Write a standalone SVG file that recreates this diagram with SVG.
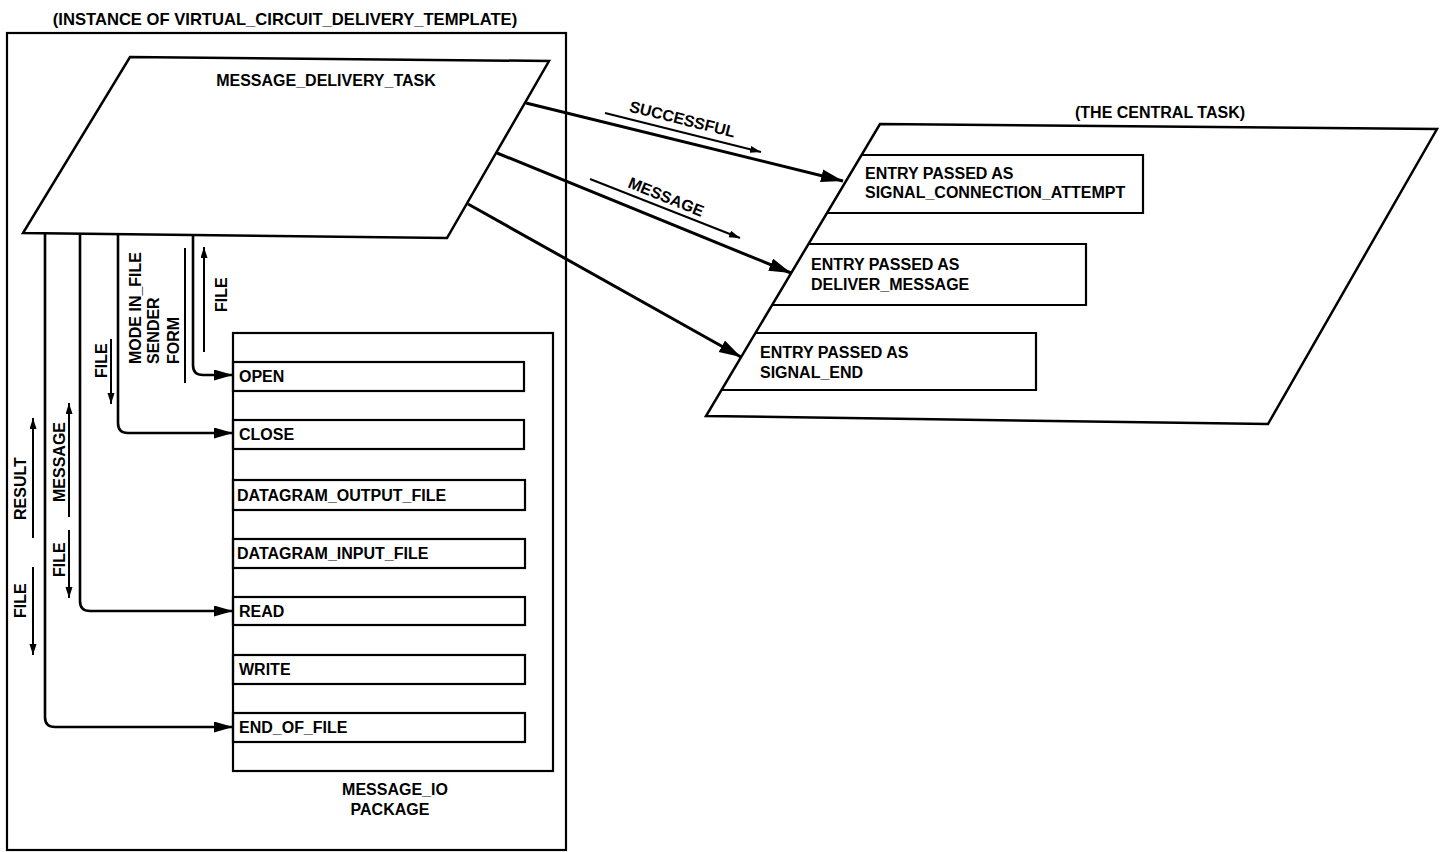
<svg xmlns="http://www.w3.org/2000/svg" width="1440" height="852" viewBox="0 0 1440 852">
<defs>
<style>
text{font-family:"Liberation Sans",Arial,Helvetica,sans-serif;font-weight:bold;font-size:16px;fill:#000}
.box{fill:none;stroke:#000;stroke-width:2.2}
.shape{fill:#fff;stroke:#000;stroke-width:2.5}
.conn{fill:none;stroke:#000;stroke-width:2.6}
.big{fill:none;stroke:#000;stroke-width:3}
.lab{fill:none;stroke:#000;stroke-width:2}
</style>
<marker id="ah" markerUnits="userSpaceOnUse" markerWidth="20" markerHeight="12" refX="19" refY="5.5" orient="auto"><path d="M0,0 L19,5.5 L0,11 z" fill="#000"/></marker>
<marker id="ahBig" markerUnits="userSpaceOnUse" markerWidth="24" markerHeight="14" refX="22" refY="6.5" orient="auto"><path d="M0,0 L22,6.5 L0,13 z" fill="#000"/></marker>
<marker id="ahS" markerUnits="userSpaceOnUse" markerWidth="12" markerHeight="8" refX="11" refY="3.5" orient="auto"><path d="M0,0 L11,3.5 L0,7 z" fill="#000"/></marker>
</defs>
<rect width="1440" height="852" fill="#fff"/>

<g id="template-frame">
<text x="285" y="25" text-anchor="middle" style="font-size:16.6px">(INSTANCE OF VIRTUAL_CIRCUIT_DELIVERY_TEMPLATE)</text>
<rect class="box" x="7" y="33" width="559" height="817"/>
</g>

<g id="message-delivery-task">
<polygon class="shape" points="130,57 549,61 447,238 23,233"/>
<text x="326" y="86" text-anchor="middle">MESSAGE_DELIVERY_TASK</text>
</g>

<g id="message-io-package">
<rect class="box" x="233" y="333" width="320" height="438"/>
<text x="395" y="795" text-anchor="middle">MESSAGE_IO</text>
<text x="390" y="815" text-anchor="middle">PACKAGE</text>
</g>
<g id="row-open"><rect class="box" x="233" y="362" width="291" height="29"/><text x="239" y="382">OPEN</text></g>
<g id="row-close"><rect class="box" x="233" y="420" width="291" height="29"/><text x="239" y="440">CLOSE</text></g>
<g id="row-dgout"><rect class="box" x="233" y="480" width="292" height="30"/><text x="237" y="501">DATAGRAM_OUTPUT_FILE</text></g>
<g id="row-dgin"><rect class="box" x="233" y="539" width="292" height="29"/><text x="237" y="559">DATAGRAM_INPUT_FILE</text></g>
<g id="row-read"><rect class="box" x="233" y="597" width="292" height="28"/><text x="239" y="617">READ</text></g>
<g id="row-write"><rect class="box" x="233" y="655" width="292" height="29"/><text x="239" y="675">WRITE</text></g>
<g id="row-eof"><rect class="box" x="233" y="713" width="292" height="29"/><text x="239" y="733">END_OF_FILE</text></g>

<g id="central-task">
<text x="1160" y="118" text-anchor="middle">(THE CENTRAL TASK)</text>
<polygon class="shape" points="880,124 1437,129 1268,424 706,416"/>
</g>
<g id="entry-signal-connection">
<path class="box" d="M861.5,155 H1143 V213 H827"/>
<text x="865" y="179">ENTRY PASSED AS</text>
<text x="865" y="198">SIGNAL_CONNECTION_ATTEMPT</text>
</g>
<g id="entry-deliver-message">
<path class="box" d="M808.5,244 H1086 V305 H772"/>
<text x="811" y="270">ENTRY PASSED AS</text>
<text x="811" y="290">DELIVER_MESSAGE</text>
</g>
<g id="entry-signal-end">
<path class="box" d="M755.4,333 H1036 V390 H721.5"/>
<text x="760" y="358">ENTRY PASSED AS</text>
<text x="760" y="378">SIGNAL_END</text>
</g>

<g id="connectors">
<path class="conn" d="M45,233 V717 Q45,727 55,727 H233" marker-end="url(#ah)"/>
<path class="conn" d="M80,234 V601 Q80,611 90,611 H233" marker-end="url(#ah)"/>
<path class="conn" d="M118,234 V423 Q118,433 128,433 H233" marker-end="url(#ah)"/>
<path class="conn" d="M193,235 V365 Q193,375 203,375 H233" marker-end="url(#ah)"/>

<path class="big" d="M526,103 L843,181" marker-end="url(#ahBig)"/>
<path class="big" d="M497,153 L791,273" marker-end="url(#ahBig)"/>
<path class="big" d="M468,204 L741,357" marker-end="url(#ahBig)"/>

<path class="lab" d="M605,113 L761,152" marker-end="url(#ahS)"/>
<path class="lab" d="M590,179 L740,238" marker-end="url(#ahS)"/>

<path class="lab" d="M204,352 V247" marker-end="url(#ahS)"/>
<path class="lab" d="M185,248 V383"/>
<path class="lab" d="M111,339 V404" marker-end="url(#ahS)"/>
<path class="lab" d="M69,517 V403" marker-end="url(#ahS)"/>
<path class="lab" d="M33,538 V418" marker-end="url(#ahS)"/>
<path class="lab" d="M69,530 V598" marker-end="url(#ahS)"/>
<path class="lab" d="M33,567 V655" marker-end="url(#ahS)"/>

<text transform="translate(681,124.5) rotate(14)" text-anchor="middle">SUCCESSFUL</text>
<text transform="translate(664,202) rotate(22)" text-anchor="middle">MESSAGE</text>

<text transform="translate(227,312) rotate(-90)">FILE</text>
<text transform="translate(141,364) rotate(-90)">MODE IN_FILE</text>
<text transform="translate(159,364) rotate(-90)">SENDER</text>
<text transform="translate(179,364) rotate(-90)">FORM</text>
<text transform="translate(107,378) rotate(-90)">FILE</text>
<text transform="translate(65,502) rotate(-90)">MESSAGE</text>
<text transform="translate(26,520) rotate(-90)">RESULT</text>
<text transform="translate(65,577) rotate(-90)">FILE</text>
<text transform="translate(26,618) rotate(-90)">FILE</text>
</g>
</svg>
